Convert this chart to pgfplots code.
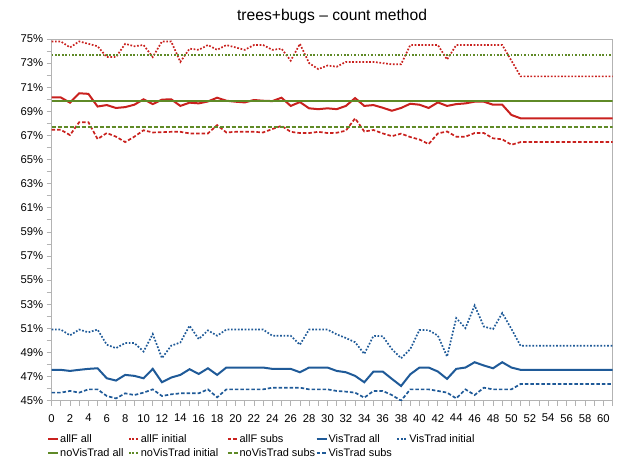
\documentclass[border=0pt]{standalone}
\usepackage{fontspec}
\setmainfont{Liberation Sans}
\usepackage{pgfplots}
\usepackage{pgfplotstable}
\pgfplotsset{compat=1.18}
\definecolor{cred}{HTML}{C9211E}
\definecolor{cgreen}{HTML}{5F8A27}
\definecolor{cblue}{HTML}{1F5A98}
\definecolor{cgrid}{HTML}{B3B3B3}
\pgfplotstableread{
x aall ainit asubs vall vinit vsubs
0 70.15 74.8 67.47 47.56 50.90 45.67
1 70.15 74.8 67.47 47.56 50.90 45.67
2 69.72 74.3 67.03 47.47 50.42 45.81
3 70.50 74.8 68.10 47.56 50.90 45.67
4 70.45 74.6 68.10 47.64 50.67 45.94
5 69.40 74.4 66.70 47.69 50.90 45.94
6 69.52 73.5 67.20 46.86 49.64 45.39
7 69.28 73.5 66.90 46.67 49.36 45.19
8 69.35 74.6 66.45 47.14 49.78 45.61
9 69.55 74.4 66.90 47.06 49.78 45.47
10 70.00 74.5 67.43 46.86 49.08 45.67
11 69.60 73.5 67.25 47.64 50.53 45.94
12 69.97 74.8 67.27 46.53 48.53 45.39
13 70.00 74.8 67.30 46.92 49.56 45.53
14 69.45 73.1 67.30 47.14 49.83 45.61
15 69.72 74.2 67.17 47.61 51.22 45.61
16 69.66 74.1 67.17 47.22 50.11 45.61
17 69.82 74.5 67.17 47.69 50.83 45.94
18 70.13 74.1 67.86 47.14 50.39 45.28
19 69.88 74.5 67.25 47.75 50.90 45.94
20 69.80 74.3 67.30 47.75 50.90 45.94
21 69.74 74.1 67.30 47.75 50.90 45.94
22 69.94 74.5 67.30 47.75 50.90 45.94
23 69.88 74.5 67.25 47.75 50.90 45.94
24 69.85 74.1 67.53 47.64 50.39 46.08
25 70.13 74.2 67.80 47.64 50.39 46.08
26 69.45 73.2 67.30 47.64 50.39 46.08
27 69.77 74.6 67.20 47.36 49.64 46.08
28 69.25 73.0 67.20 47.75 50.90 45.94
29 69.18 72.5 67.30 47.75 50.90 45.94
30 69.25 72.8 67.20 47.75 50.90 45.94
31 69.18 72.7 67.22 47.47 50.50 45.81
32 69.45 73.1 67.40 47.36 50.20 45.75
33 70.10 73.1 68.42 47.06 49.85 45.67
34 69.45 73.1 67.33 46.53 48.88 45.25
35 69.52 73.1 67.45 47.42 50.38 45.81
36 69.30 73.0 67.17 47.42 50.35 45.81
37 69.05 72.9 66.94 46.81 49.28 45.47
38 69.28 72.9 67.15 46.22 48.52 45.00
39 69.63 74.5 66.87 47.19 49.28 45.94
40 69.55 74.5 66.66 47.75 50.87 45.94
41 69.28 74.5 66.29 47.75 50.85 45.94
42 69.74 74.5 67.17 47.42 50.40 45.81
43 69.45 73.3 67.33 46.81 48.66 45.67
44 69.60 74.5 66.90 47.64 51.85 45.19
45 69.66 74.5 66.90 47.75 51.02 45.94
46 69.80 74.5 67.20 48.19 52.90 45.47
47 69.80 74.5 67.20 47.92 51.15 46.08
48 69.55 74.5 66.76 47.69 50.94 45.94
49 69.55 74.5 66.68 48.19 52.27 45.94
50 68.70 73.2 66.23 47.75 50.95 45.94
51 68.42 71.9 66.45 47.56 49.55 46.39
52 68.42 71.9 66.45 47.56 49.55 46.39
53 68.42 71.9 66.45 47.56 49.55 46.39
54 68.42 71.9 66.45 47.56 49.55 46.39
55 68.42 71.9 66.45 47.56 49.55 46.39
56 68.42 71.9 66.45 47.56 49.55 46.39
57 68.42 71.9 66.45 47.56 49.55 46.39
58 68.42 71.9 66.45 47.56 49.55 46.39
59 68.42 71.9 66.45 47.56 49.55 46.39
60 68.42 71.9 66.45 47.56 49.55 46.39
61 68.42 71.9 66.45 47.56 49.55 46.39
}\datatab
\begin{document}
\begin{tikzpicture}
\begin{axis}[
  at={(0,0)}, anchor=south west,
  scale only axis, width=561bp, height=361.7bp,
  xmin=0, xmax=61, ymin=45, ymax=75,
  xtick={0,2,...,60}, minor xtick={1,3,...,61},
  ytick={45,47,...,75}, minor ytick={46,48,...,74},
  yticklabel={\pgfmathprintnumber{\tick}\%},
  /pgf/number format/assume math mode=true,
  tick align=outside, tick pos=left,
  major tick length=5bp, minor tick length=5bp,
  every tick/.style={cgrid, line width=0.8bp},
  minor tick style={cgrid, line width=0.8bp},
  major tick style={cgrid, line width=0.8bp},
  axis line style={cgrid, line width=0.9bp},
  tick label style={font=\fontsize{11.3}{13}\selectfont, text=black},
  xticklabel style={yshift=-5bp},
  title={trees+bugs – count method},
  title style={font=\fontsize{15.7}{18}\selectfont, at={(0.5,1)}, anchor=base, yshift=13bp},
  legend columns=5,
  legend cell align=left,
  legend style={draw=none, fill=none, at={(-0.0082,-0.089)}, anchor=north west,
    font=\fontsize{11}{13}\selectfont, column sep=0bp, row sep=3bp, inner sep=0pt,
    nodes={inner xsep=1bp, inner ysep=1pt}},
  legend image code/.code={\draw[#1] (0bp,0bp) -- (10bp,0bp);},
  every axis plot/.append style={no marks},
]
\addplot[cred, line width=2bp] table[x=x, y=aall] {\datatab};
\addlegendentry{allF all}
\addplot[cred, line width=1.7bp, dash pattern=on 1.7bp off 1.7bp] table[x=x, y=ainit] {\datatab};
\addlegendentry{allF initial}
\addplot[cred, line width=1.7bp, dash pattern=on 3.5bp off 2bp] table[x=x, y=asubs] {\datatab};
\addlegendentry{allF subs}
\addplot[cblue, line width=2bp] table[x=x, y=vall] {\datatab};
\addlegendentry{VisTrad all}
\addplot[cblue, line width=1.7bp, dash pattern=on 1.7bp off 1.7bp] table[x=x, y=vinit] {\datatab};
\addlegendentry{VisTrad initial}
\addplot[cgreen, line width=2bp] coordinates {(0,69.88) (61,69.88)};
\addlegendentry{\makebox[67bp][l]{noVisTrad all}}
\addplot[cgreen, line width=1.7bp, dash pattern=on 1.7bp off 1.7bp] coordinates {(0,73.67) (61,73.67)};
\addlegendentry{\makebox[85bp][l]{noVisTrad initial}}
\addplot[cgreen, line width=1.7bp, dash pattern=on 4bp off 2bp] coordinates {(0,67.70) (61,67.70)};
\addlegendentry{\makebox[75bp][l]{noVisTrad subs}}
\addplot[cblue, line width=1.7bp, dash pattern=on 3.5bp off 2bp] table[x=x, y=vsubs] {\datatab};
\addlegendentry{\makebox[67bp][l]{VisTrad subs}}
\end{axis}
\pgfresetboundingbox
\path (-51.6bp,-75.3bp) rectangle (573.4bp,400.7bp);
\end{tikzpicture}
\end{document}
